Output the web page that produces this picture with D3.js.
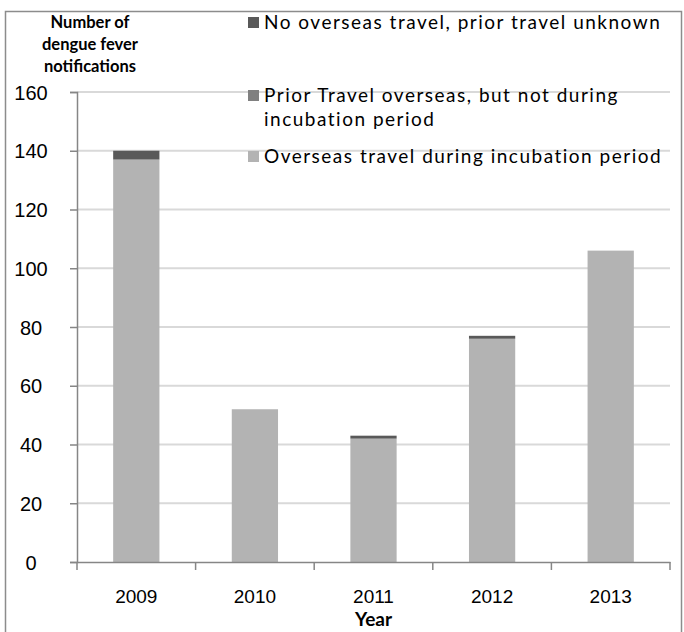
<!DOCTYPE html>
<html><head><meta charset="utf-8">
<script src="https://cdn.jsdelivr.net/npm/d3@7"></script>
<style>body{margin:0;background:#fff;} svg{display:block;font-family:Lato,"Open Sans",sans-serif;}</style>
</head><body>
<svg id="c" width="684" height="632"></svg>
<script>
const years = ["2009","2010","2011","2012","2013"];
const overseasIncubation = [137, 52, 42, 76, 106];
const priorTravel = [0, 0, 0, 0, 0];
const noOverseas = [3, 0, 1, 1, 0];
const yTicks = [0,20,40,60,80,100,120,140,160];
const seriesNames = ["Overseas travel during incubation period","Prior Travel overseas, but not during incubation period","No overseas travel, prior travel unknown"];
const colors = ["#b3b3b3","#808080","#595959"];

const svg = d3.select("#c");
const pLeft=77, pRight=670, pTop=92, pBottom=562;

svg.append("rect").attr("x",5.5).attr("y",11.5).attr("width",676).attr("height",630)
  .attr("fill","none").attr("stroke","#8c8c8c").attr("stroke-width",1.5);

const x = d3.scaleBand().domain(years).range([pLeft,pRight]).paddingInner(0.61).paddingOuter(0.305);
const xt = d3.scaleBand().domain(years).range([pLeft,pRight]);
const y = d3.scaleLinear().domain([0,160]).range([pBottom,pTop]);

svg.append("g").selectAll("line").data(yTicks.filter(d=>d>0)).join("line")
  .attr("x1",pLeft).attr("x2",pRight).attr("y1",d=>y(d)).attr("y2",d=>y(d))
  .attr("stroke","#d9d9d9").attr("stroke-width",2);

const data = years.map((yr,i)=>({year:yr, a:overseasIncubation[i], b:priorTravel[i], c:noOverseas[i]}));
const stack = d3.stack().keys(["a","b","c"])(data);
svg.append("g").selectAll("g").data(stack).join("g").attr("fill",(d,i)=>colors[i])
  .selectAll("rect").data(d=>d).join("rect")
  .attr("x",d=>x(d.data.year)).attr("width",x.bandwidth())
  .attr("y",d=>y(d[1])).attr("height",d=>y(d[0])-y(d[1]));

const ya = d3.axisLeft(y).tickValues(yTicks).tickSize(7).tickPadding(12);
const gy = svg.append("g").attr("transform",`translate(${pLeft},0)`).call(ya);
gy.select(".domain").attr("stroke","#868686").attr("stroke-width",1.5);
gy.selectAll(".tick line").attr("stroke","#868686").attr("stroke-width",1.5);
gy.selectAll(".tick text").attr("font-size",20).attr("fill","#000").attr("text-anchor","middle").attr("x",-46).attr("dy","0.35em");

const xa = d3.axisBottom(xt).tickSize(0).tickPadding(28);
const gx = svg.append("g").attr("transform",`translate(0,${pBottom})`).call(xa);
gx.select(".domain").attr("stroke","#868686").attr("stroke-width",1.5);
gx.selectAll(".tick text").attr("font-size",19).attr("fill","#000");
const edges = years.map(d=>xt(d)).concat([pRight]);
svg.append("g").selectAll("line").data(edges).join("line")
  .attr("x1",d=>d).attr("x2",d=>d).attr("y1",pBottom).attr("y2",pBottom+8)
  .attr("stroke","#868686").attr("stroke-width",1.5);

svg.append("text").attr("x",(pLeft+pRight)/2).attr("y",626).attr("text-anchor","middle")
  .attr("font-size",19).attr("font-weight","bold").text("Year");

const tt = ["Number of","dengue fever","notifications"];
svg.append("g").selectAll("text").data(tt).join("text")
  .attr("x",90).attr("y",(d,i)=>28+i*22).attr("text-anchor","middle")
  .attr("font-size",16.5).attr("font-weight","bold").text(d=>d);

const leg = [
  {c:colors[2], lines:[seriesNames[2]], y:22},
  {c:colors[1], lines:["Prior Travel overseas, but not during","incubation period"], y:95},
  {c:colors[0], lines:[seriesNames[0]], y:156}
];
const lg = svg.append("g");
leg.forEach(l=>{
  lg.append("rect").attr("x",248).attr("y",l.y-5).attr("width",11).attr("height",11).attr("fill",l.c);
  l.lines.forEach((t,j)=>{
    lg.append("text").attr("x",264).attr("y",l.y+j*24).attr("dy","0.38em")
      .attr("font-size",19).attr("letter-spacing",1.5).text(t);
  });
});
</script>
</body></html>
